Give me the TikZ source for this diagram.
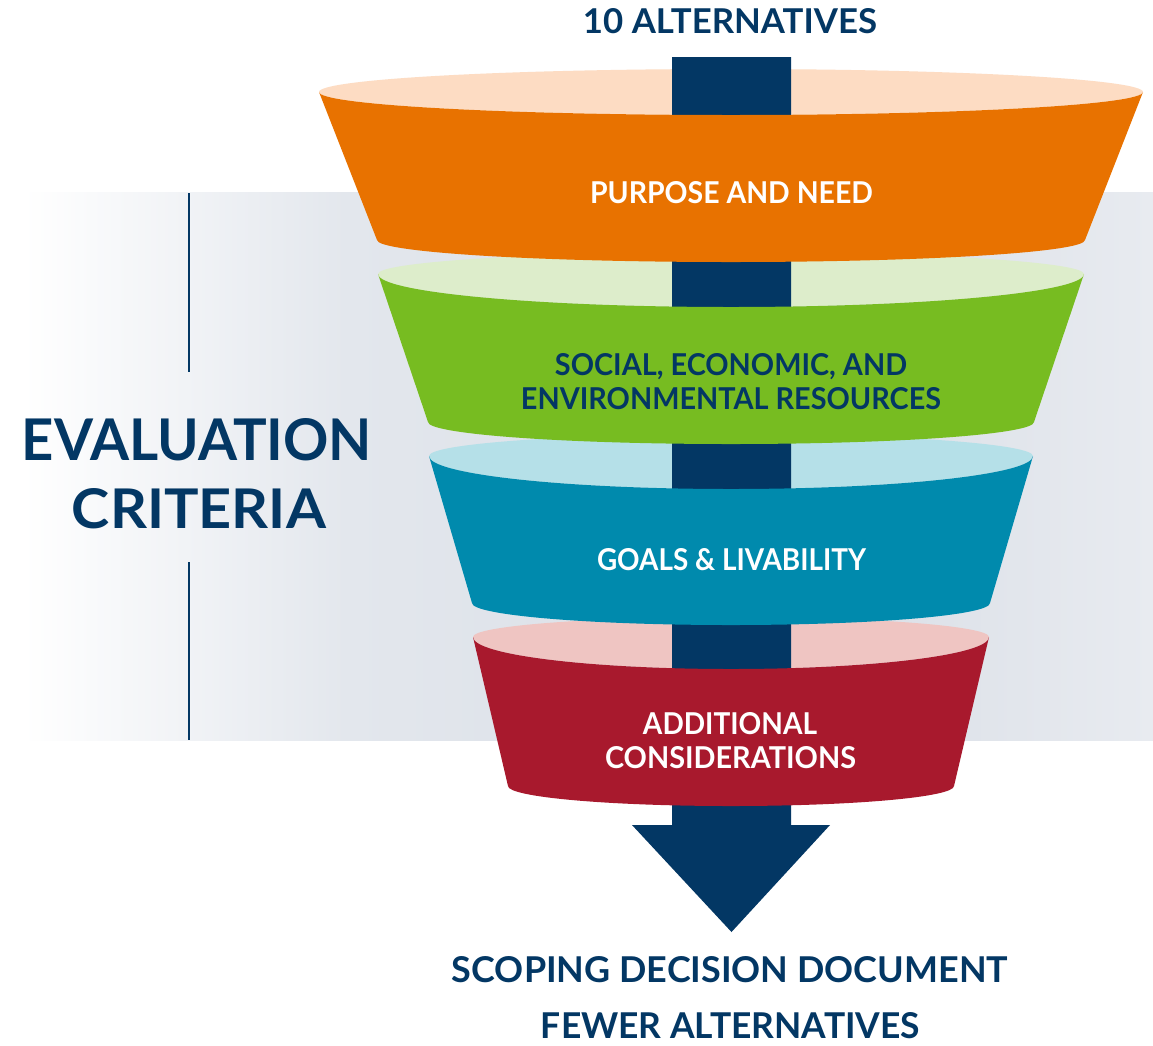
\documentclass[tikz,border=0pt]{standalone}
\usepackage{fontspec}
\setmainfont{Lato}
\usepackage{graphicx}
\definecolor{navy}{HTML}{033764}
\definecolor{orangeB}{HTML}{E87200}
\definecolor{orangeL}{HTML}{FDDCC3}
\definecolor{greenB}{HTML}{77BC21}
\definecolor{greenL}{HTML}{DDEDCB}
\definecolor{blueB}{HTML}{008AAD}
\definecolor{blueL}{HTML}{B5E0E8}
\definecolor{redB}{HTML}{A8192D}
\definecolor{redL}{HTML}{EFC5C2}
\definecolor{bandA}{HTML}{E3E7ED}
\definecolor{bandB}{HTML}{D9DEE6}
\definecolor{bandC}{HTML}{E8EBF0}
\pgfdeclarehorizontalshading{bandshade}{100bp}{color(0bp)=(white); color(26bp)=(white); color(40bp)=(bandA); color(60bp)=(bandB); color(75bp)=(bandC); color(100bp)=(bandC)}
\newcommand\fitlbl[3]{\resizebox{#1pt}{#2pt}{\bfseries #3}}
\tikzset{
  lbl/.style={anchor=base, inner sep=0pt, outer sep=0pt},
  navytxt/.style={lbl, text=navy},
  whitetxt/.style={lbl, text=white},
  sideline/.style={draw=navy, line width=2.2pt},
}
\begin{document}
\begin{tikzpicture}[x=1pt,y=-1pt]
\useasboundingbox (0,0) rectangle (1153,1045);
\fill[white] (0,0) rectangle (1153,1045);
% background band
\shade[shading=bandshade] (0,192) rectangle (1153,740);
% side lines
\coordinate (l1a) at (189,193);
\coordinate (l1b) at (189,372);
\coordinate (l2a) at (189,562);
\coordinate (l2b) at (189,740);
\draw[sideline] (l1a) -- (l1b);
\draw[sideline] (l2a) -- (l2b);
% caps (light tops)
\fill[orangeL] (319,92) arc[start angle=180,end angle=360,x radius=412,y radius=23] arc[start angle=0,end angle=180,x radius=412,y radius=23] -- cycle;
\fill[greenL] (378,274) arc[start angle=180,end angle=360,x radius=353,y radius=22] arc[start angle=0,end angle=180,x radius=353,y radius=33] -- cycle;
\fill[blueL] (429,456) arc[start angle=180,end angle=360,x radius=302,y radius=22] arc[start angle=0,end angle=180,x radius=302,y radius=33] -- cycle;
\fill[redL] (473,637) arc[start angle=180,end angle=360,x radius=258,y radius=20] arc[start angle=0,end angle=180,x radius=258,y radius=32] -- cycle;
% navy bar with arrow head
\fill[navy] (672,57) -- (791,57) -- (791,825) -- (830,825) -- (731.5,932) -- (632,825) -- (672,825) -- cycle;
% bodies
\fill[orangeB] (319,92) arc[start angle=180,end angle=0,x radius=412,y radius=23] -- (1085,240) arc[start angle=0,end angle=180,x radius=354,y radius=22] -- cycle;
\fill[greenB] (378,274) arc[start angle=180,end angle=0,x radius=353,y radius=33] -- (1034,422) arc[start angle=0,end angle=180,x radius=303,y radius=22] -- cycle;
\fill[blueB] (429,456) arc[start angle=180,end angle=0,x radius=302,y radius=33] -- (990,603) arc[start angle=0,end angle=180,x radius=259,y radius=22] -- cycle;
\fill[redB] (473,637) arc[start angle=180,end angle=0,x radius=258,y radius=32] -- (954,786) arc[start angle=0,end angle=180,x radius=223,y radius=20] -- cycle;
% texts
\node[navytxt] (top) at (730,33) {\fitlbl{294}{25}{10 ALTERNATIVES}};
\node[whitetxt] (pn) at (731.5,203) {\fitlbl{283}{22}{PURPOSE AND NEED}};
\node[navytxt] (se1) at (731,375) {\fitlbl{352}{22}{SOCIAL, ECONOMIC, AND}};
\node[navytxt] (se2) at (731,409) {\fitlbl{420}{22}{ENVIRONMENTAL RESOURCES}};
\node[whitetxt] (gl) at (731.5,570) {\fitlbl{269}{22}{GOALS \& LIVABILITY}};
\node[whitetxt] (ac1) at (730,734) {\fitlbl{174}{22}{ADDITIONAL}};
\node[whitetxt] (ac2) at (730.5,768) {\fitlbl{251}{22}{CONSIDERATIONS}};
\node[navytxt] (sd) at (730,982) {\fitlbl{556}{26}{SCOPING DECISION DOCUMENT}};
\node[navytxt] (fa) at (730.5,1038) {\fitlbl{379}{26}{FEWER ALTERNATIVES}};
\node[navytxt] (ev) at (197,460) {\fitlbl{350}{42}{EVALUATION}};
\node[navytxt] (cr) at (199,528) {\fitlbl{254}{40}{CRITERIA}};
\end{tikzpicture}
\end{document}
